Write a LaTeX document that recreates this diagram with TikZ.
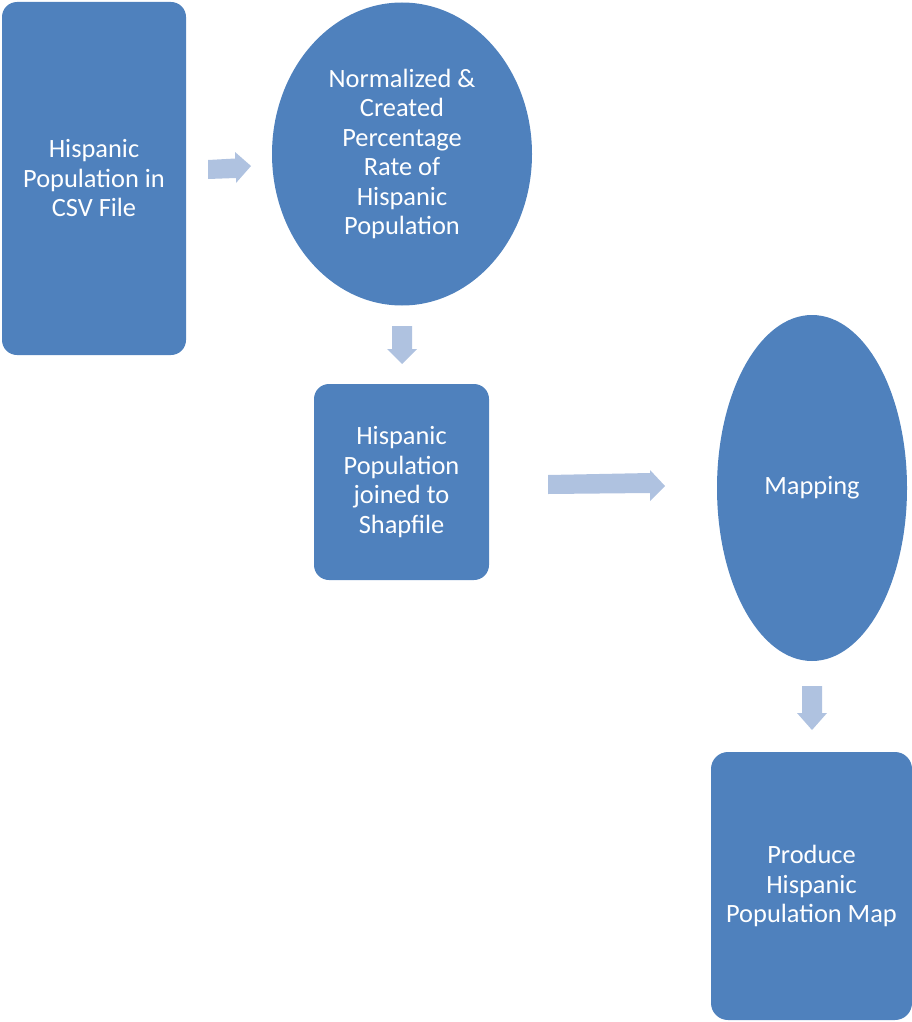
\documentclass[tikz,border=0pt]{standalone}
\usepackage{fontspec}
\setmainfont{Carlito}
\usetikzlibrary{shapes.geometric}
\definecolor{boxblue}{HTML}{4F81BD}
\definecolor{arrowblue}{HTML}{AFC2E0}
\tikzset{
  lbl/.style={text=white, align=center, font=\fontsize{26.4}{29.5}\selectfont, inner sep=0pt},
  rbox/.style={lbl, fill=boxblue, rounded corners=15pt, rectangle},
  ebox/.style={lbl, fill=boxblue, ellipse},
  barrow/.style={fill=arrowblue}
}
\begin{document}
\begin{tikzpicture}[x=1pt,y=-1pt]
\useasboundingbox (0,0) rectangle (912,1022);
\node[rbox, minimum width=184pt, minimum height=353pt] (csv) at (94,178.5) {Hispanic\\Population in\\CSV File};
\node[ebox, minimum width=260pt, minimum height=303pt] (norm) at (402,154) {Normalized \&\\Created\\Percentage\\Rate of\\Hispanic\\Population};
\node[rbox, minimum width=175pt, minimum height=196pt] (join) at (401.5,482) {Hispanic\\Population\\joined to\\Shapfile};
\node[ebox, minimum width=190pt, minimum height=346pt] (map) at (812,488) {Mapping};
\node[rbox, rounded corners=17pt, minimum width=201pt, minimum height=268pt] (prod) at (811.5,886) {Produce\\Hispanic\\Population Map};
% block arrows
\fill[barrow] (208,160) -- (235,158.5) -- (235,152) -- (251,166) -- (236,183) -- (236,178) -- (208,179) -- cycle;
\fill[barrow] (392,326) -- (412,326) -- (412,349) -- (417,349) -- (402,364) -- (387,349) -- (392,349) -- cycle;
\fill[barrow] (548,475) -- (650,473) -- (650,470) -- (665,486) -- (650,501) -- (650,493) -- (548,494) -- cycle;
\fill[barrow] (802,686) -- (822,686) -- (822,713) -- (827,713) -- (812,730) -- (797,713) -- (802,713) -- cycle;
\end{tikzpicture}
\end{document}
